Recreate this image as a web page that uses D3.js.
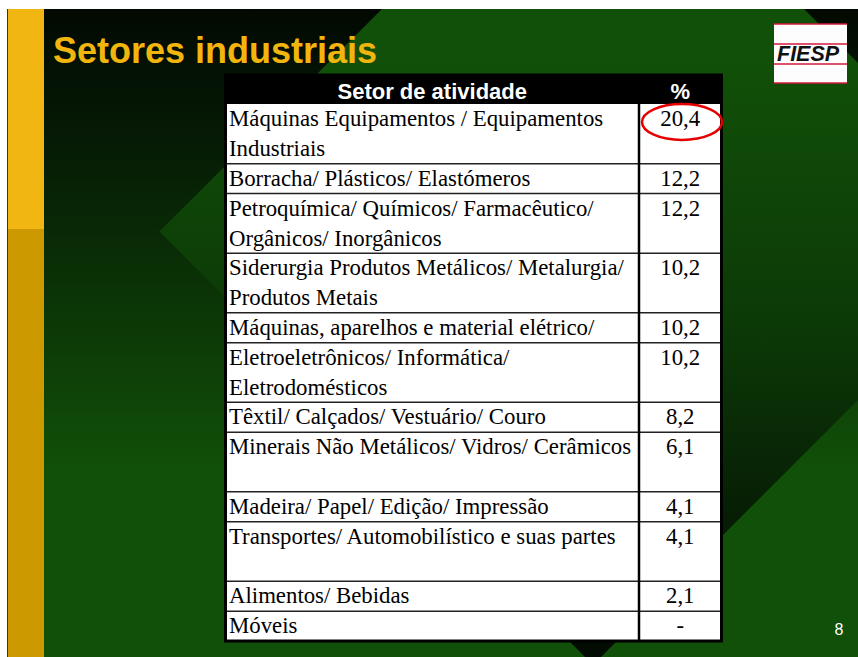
<!DOCTYPE html>
<html>

<head>
	<meta charset="UTF-8" />
	<title>Setores industriais</title>
	<script src="https://d3js.org/d3.v7.min.js"></script>
	<style>
		body {
			margin: 0;
			background: #ffffff;
		}
	</style>
</head>

<body>
	<div id="main"></div>

	<script type="text/javascript">
		// table contents
		var sectors = [
			['Máquinas Equipamentos / Equipamentos', 'Industriais'],
			['Borracha/ Plásticos/ Elastómeros'],
			['Petroquímica/ Químicos/ Farmacêutico/', 'Orgânicos/ Inorgânicos'],
			['Siderurgia Produtos Metálicos/ Metalurgia/', 'Produtos Metais'],
			['Máquinas, aparelhos e material elétrico/'],
			['Eletroeletrônicos/ Informática/', 'Eletrodomésticos'],
			['Têxtil/ Calçados/ Vestuário/ Couro'],
			['Minerais Não Metálicos/ Vidros/ Cerâmicos'],
			['Madeira/ Papel/ Edição/ Impressão'],
			['Transportes/ Automobilístico e suas partes'],
			['Alimentos/ Bebidas'],
			['Móveis']
		];
		var percents = [20.4, 12.2, 12.2, 10.2, 10.2, 10.2, 8.2, 6.1, 4.1, 4.1, 2.1, null];
		var rowSpans = [2, 1, 2, 2, 1, 2, 1, 2, 1, 2, 1, 1];
		var headers = ['Setor de atividade', '%'];
		var highlighted = 0; // row with the red circle
		var title = 'Setores industriais';
		var logoText = 'FIESP';
		var pageNumber = '8';

		var serif = "'Liberation Serif', 'Times New Roman', serif";
		var sans = "'Liberation Sans', Arial, sans-serif";

		var width = 858, height = 657;
		var svg = d3.select('#main').append('svg').attr('width', width).attr('height', height)
			.style('display', 'block');

		var defs = svg.append('defs');
		var bgGrad = defs.append('linearGradient').attr('id', 'bgGrad')
			.attr('gradientUnits', 'userSpaceOnUse').attr('x1', 0).attr('y1', 9).attr('x2', 0).attr('y2', 470);
		bgGrad.append('stop').attr('offset', 0).attr('stop-color', '#020902');
		bgGrad.append('stop').attr('offset', 0.3).attr('stop-color', '#061c05');
		bgGrad.append('stop').attr('offset', 1).attr('stop-color', '#115008');

		var diaGrad = defs.append('linearGradient').attr('id', 'diaGrad')
			.attr('gradientUnits', 'userSpaceOnUse').attr('x1', 0).attr('y1', 60).attr('x2', 0).attr('y2', 640);
		diaGrad.append('stop').attr('offset', 0).attr('stop-color', '#115008');
		diaGrad.append('stop').attr('offset', 0.45).attr('stop-color', '#0c3a07');
		diaGrad.append('stop').attr('offset', 1).attr('stop-color', '#030c03');

		defs.append('clipPath').attr('id', 'slideClip')
			.append('rect').attr('x', 7).attr('y', 9).attr('width', width - 7).attr('height', height - 9);

		// slide background
		var slide = svg.append('g').attr('clip-path', 'url(#slideClip)');
		slide.append('rect').attr('x', 7).attr('y', 9).attr('width', width - 7).attr('height', height - 9)
			.attr('fill', 'url(#bgGrad)');
		var dcx = 593, dcy = 231.5, dr = 433.5;
		slide.append('polygon')
			.attr('points', [[dcx, dcy - dr], [dcx + dr, dcy], [dcx, dcy + dr], [dcx - dr, dcy]].join(' '))
			.attr('fill', 'url(#diaGrad)');
		slide.append('rect').attr('x', 8).attr('y', 9).attr('width', 36).attr('height', 220).attr('fill', '#f2b612');
		slide.append('rect').attr('x', 8).attr('y', 229).attr('width', 36).attr('height', 428).attr('fill', '#cc9900');
		slide.append('line').attr('x1', 7.5).attr('x2', 7.5).attr('y1', 9).attr('y2', height)
			.attr('stroke', '#1e4a12').attr('stroke-width', 1);

		// title
		svg.append('text').attr('x', 53).attr('y', 63)
			.attr('font-family', sans).attr('font-weight', 'bold')
			.attr('font-size', 36).attr('fill', '#f2b50e').text(title);

		// logo
		var logo = svg.append('g').attr('transform', 'translate(774, 24)');
		logo.append('rect').attr('width', 73).attr('height', 59).attr('fill', '#fdfdfd');
		[0, 20, 40, 59].forEach(function (y) {
			logo.append('line').attr('x1', 0).attr('x2', 73).attr('y1', y).attr('y2', y)
				.attr('stroke', '#d4183c').attr('stroke-width', 1.6);
		});
		logo.append('text').attr('x', 3).attr('y', 37)
			.attr('font-family', sans).attr('font-weight', 'bold')
			.attr('font-style', 'italic').attr('font-size', 21.5).attr('fill', '#111').text(logoText);

		// table
		var tLeft = 225.5, tRight = 721.5, tTop = 75, hBottom = 104, tBottom = 641, colX = 639;
		var units = d3.cumsum(rowSpans);
		var y = d3.scaleLinear().domain([0, units[units.length - 1]]).range([hBottom, tBottom]);
		var rows = sectors.map(function (lines, i) {
			return { lines: lines, pct: percents[i], top: y(i ? units[i - 1] : 0), bottom: y(units[i]) };
		});
		var fmt = d3.formatLocale({ decimal: ',', thousands: '.', grouping: [3], currency: ['R$', ''] }).format('.1f');

		var table = svg.append('g');
		table.append('rect').attr('x', tLeft).attr('y', tTop).attr('width', tRight - tLeft).attr('height', tBottom - tTop)
			.attr('fill', '#fff');
		table.append('rect').attr('x', tLeft).attr('y', tTop).attr('width', tRight - tLeft).attr('height', hBottom - tTop)
			.attr('fill', '#000');

		table.selectAll('.hdr').data(headers).enter().append('text').attr('class', 'hdr')
			.attr('x', function (d, i) { return i ? (colX + tRight) / 2 : (tLeft + colX) / 2; })
			.attr('y', 98.5).attr('text-anchor', 'middle')
			.attr('font-family', sans).attr('font-weight', 'bold')
			.attr('font-size', 22).attr('fill', '#fff').text(function (d) { return d; });

		var row = table.selectAll('.row').data(rows).enter().append('g').attr('class', 'row')
			.attr('font-family', serif).attr('font-size', 22.8).attr('fill', '#000');
		row.filter(function (d, i) { return i > 0; }).append('line')
			.attr('x1', tLeft).attr('x2', tRight)
			.attr('y1', function (d) { return d.top; }).attr('y2', function (d) { return d.top; })
			.attr('stroke', '#222').attr('stroke-width', 1.5);
		row.append('text').attr('x', 229)
			.selectAll('tspan').data(function (d) { return d.lines.map(function (l, k) { return { t: l, y: d.top + 22 + k * 30 }; }); })
			.enter().append('tspan').attr('x', 229).attr('y', function (d) { return d.y; }).text(function (d) { return d.t; });
		row.append('text').attr('x', (colX + tRight) / 2)
			.attr('y', function (d) { return d.top + 22; }).attr('text-anchor', 'middle')
			.text(function (d) { return d.pct == null ? '-' : fmt(d.pct); });

		table.append('line').attr('x1', colX).attr('x2', colX).attr('y1', hBottom).attr('y2', tBottom)
			.attr('stroke', '#000').attr('stroke-width', 2.5);
		table.append('rect').attr('x', tLeft).attr('y', tTop).attr('width', tRight - tLeft).attr('height', tBottom - tTop)
			.attr('fill', 'none').attr('stroke', '#000').attr('stroke-width', 3);

		// red circle round the highest share
		var hl = rows[highlighted];
		table.append('ellipse').attr('cx', 682).attr('cy', hl.top + 18).attr('rx', 40).attr('ry', 18)
			.attr('fill', 'none').attr('stroke', '#e60000').attr('stroke-width', 2.5);

		// page number
		svg.append('text').attr('x', 839).attr('y', 635).attr('text-anchor', 'middle')
			.attr('font-family', sans).attr('font-size', 16)
			.attr('fill', '#fff').text(pageNumber);
	</script>
</body>

</html>
